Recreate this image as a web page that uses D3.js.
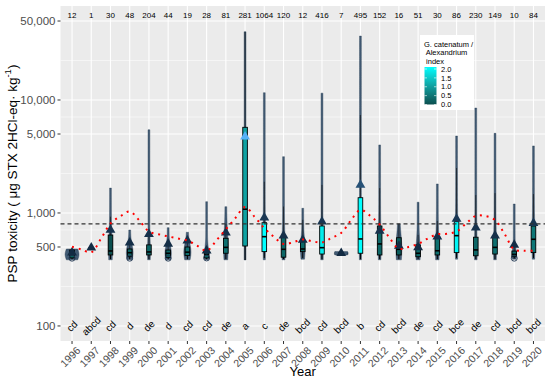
<!DOCTYPE html>
<html><head><meta charset="utf-8">
<script src="https://cdn.jsdelivr.net/npm/d3@7"></script>
<style>body{margin:0;background:#fff;} text{font-family:"Liberation Sans",Arial,sans-serif;}</style>
</head><body><svg id="c" width="550" height="385"></svg>
<script>
const years = ["1996","1997","1998","1999","2000","2001","2002","2003","2004","2005","2006","2007","2008","2009","2010","2011","2012","2013","2014","2015","2016","2017","2018","2019","2020"];
const counts = [12,1,30,48,204,44,19,28,81,281,1064,120,12,416,7,495,152,16,51,30,86,230,149,10,84];
const sigLetters = ["cd","abcd","cd","d","de","d","cd","cd","de","a","c","de","bcd","cd","bcd","b","cd","bcd","de","cd","bce","de","cd","bcd","bcd"];
const q1 =      [400,493,425,410,425,405,420,400,440,510, 455,406,455,433,435,440,425,425,410,425,446,418,433,410,446];
const medians = [430,493,461,445,452,440,450,430,496,1080,617,477,480,493,440,589,532,477,440,463,630,471,496,430,585];
const q3 =      [470,493,638,480,522,470,500,460,597,5730,820,610,557,767,445,1365,767,604,522,617,838,610,617,460,767];
const whiskLo = [390,493,390,390,390,390,390,390,390,384, 400,390,400,390,430,390,390,390,390,390,400,390,390,395,400];
const whiskHi = [480,493,927,540,700,520,560,500,800,40000,1890,1140,870,1770,450,7360,1660,800,640,850,2500,1440,1500,500,1470];
const means =   [445,493,707,546,649,532,569,463,670,4730,908,630,577,838,440,1770,693,510,496,617,885,741,630,522,811];
const violinMin=[385,null,385,385,385,385,385,385,385,384,385,385,390,385,425,385,385,385,385,385,390,385,385,390,390];
const violinMax=[480,null,1660,707,5450,741,675,1259,1137,40200,11600,3150,1100,11500,455,36800,4000,800,1245,1806,4800,8490,5070,1200,3920];
const outlierYears = ["1996","1999","2001","2003","2019"];
const outlierVals =  [398,398,398,400,398];
const fillIndex = [0.2,0.2,0.0,0.3,0.3,0.3,0.4,0.3,0.4,1.0,2.0,0.3,0.3,1.8,0.4,2.0,0.3,0.2,0.3,0.4,1.9,0.3,0.4,0.3,0.5];
// smoothed trend (red dotted line): positions in year units and values
const trendX = [1996,1996.5,1997,1997.5,1998,1998.5,1999,1999.5,2000,2000.5,2001,2001.5,2002,2002.5,2003,2003.5,2004,2004.5,2005,2005.5,2006,2006.5,2007,2007.5,2008,2008.5,2009,2009.5,2010,2010.5,2011,2011.5,2012,2012.5,2013,2013.5,2014,2014.5,2015,2015.5,2016,2016.5,2017,2017.5,2018,2018.5,2019,2019.5,2020];
const trendY = [503,475,449,589,807,931,1031,859,686,648,620,595,571,515,463,569,717,903,1130,922,736,614,532,551,582,562,548,601,666,859,1064,946,791,607,483,500,532,595,648,655,686,807,944,940,867,652,475,464,464];
const yBreaks = [100,500,1000,5000,10000,50000];
const legendBreaks = [0,0.5,1,1.5,2];
const limitValue = 800;

const svg = d3.select("#c");
const P = {l:60.5, r:545, t:6, b:341};
const step = (P.r-P.l)/(years.length-1+1.2);
const x = d3.scalePoint().domain(years).range([P.l+0.6*step, P.r-0.6*step]);
const xc = yr => x(yr);
const xn = d3.scaleLinear().domain([1996,2020]).range([P.l+0.6*step, P.r-0.6*step]);
const y = d3.scaleLog().domain([73.6, 67900]).range([P.b, P.t]);
const fillScale = d3.scaleLinear().domain([0,2]).range(["#0b4f4f","#00ffff"]).interpolate(d3.interpolateLab);
const meanColor = d3.scaleLinear().domain([440,4730]).range(["#132B43","#56B1F7"]).interpolate(d3.interpolateLab);

svg.append("rect").attr("x",P.l).attr("y",P.t).attr("width",P.r-P.l).attr("height",P.b-P.t).attr("fill","#EBEBEB");
const minor = [];
for (let i=0;i<yBreaks.length-1;i++) minor.push(Math.sqrt(yBreaks[i]*yBreaks[i+1]));
const g = svg.append("g");
g.selectAll(".mn").data(minor).join("line").attr("x1",P.l).attr("x2",P.r).attr("y1",d=>y(d)).attr("y2",d=>y(d)).attr("stroke","#fff").attr("stroke-width",0.5);
g.selectAll(".mj").data(yBreaks).join("line").attr("x1",P.l).attr("x2",P.r).attr("y1",d=>y(d)).attr("y2",d=>y(d)).attr("stroke","#fff").attr("stroke-width",1.1);
g.selectAll(".vx").data(years).join("line").attr("x1",d=>xc(d)).attr("x2",d=>xc(d)).attr("y1",P.t).attr("y2",P.b).attr("stroke","#fff").attr("stroke-width",1.1);

// y axis
const ya = svg.append("g");
ya.selectAll("line").data(yBreaks).join("line").attr("x1",P.l-3).attr("x2",P.l).attr("y1",d=>y(d)).attr("y2",d=>y(d)).attr("stroke","#333").attr("stroke-width",1);
ya.selectAll("text").data(yBreaks).join("text").attr("x",P.l-5).attr("y",d=>y(d)).attr("dy","0.35em").attr("text-anchor","end").attr("font-size",11.5).attr("fill","#4D4D4D").text(d=>d3.format(",")(d));
// x axis
const xa = svg.append("g");
xa.selectAll("line").data(years).join("line").attr("x1",d=>xc(d)).attr("x2",d=>xc(d)).attr("y1",P.b).attr("y2",P.b+3).attr("stroke","#333");
xa.selectAll("text").data(years).join("text").attr("transform",d=>`translate(${xc(d)+4},${P.b+5}) rotate(-45)`).attr("text-anchor","end").attr("dy","0.7em").attr("font-size",10.5).attr("fill","#4D4D4D").text(d=>d);

svg.append("text").attr("x",(P.l+P.r)/2).attr("y",375.5).attr("text-anchor","middle").attr("font-size",13).attr("fill","#000").text("Year");
const yt = svg.append("text").attr("transform",`translate(17,${(P.t+P.b)/2}) rotate(-90)`).attr("text-anchor","middle").attr("font-size",13.5).attr("fill","#000");
yt.append("tspan").text("PSP toxicity ( μg STX 2HCl-eq· kg");
yt.append("tspan").attr("dy",-6).attr("font-size",9.5).text("-1");
yt.append("tspan").attr("dy",6).text(")");

// violins
const rows = years.map((yr,i)=>({yr,i}));
const vg = svg.append("g");
rows.forEach(({yr,i})=>{
  if (violinMin[i]==null) return;
  const lmin=Math.log(violinMin[i]), lmax=Math.log(violinMax[i]);
  const lm=Math.log(medians[i]);
  const s=Math.min(0.3,Math.max(0.08,(Math.log(q3[i])-Math.log(q1[i]))));
  const B=Math.min(6,1.5/Math.max(0.25,lmax-lmin));
  const pts=d3.range(0,1.0001,0.01).map(t=>{const lv=lmin+(lmax-lmin)*t; const hw=0.9+B*Math.exp(-0.5*((lv-lm)/s)**2); return {v:Math.exp(lv),hw};});
  const cx=xc(yr);
  const area=d3.area().y(d=>y(d.v)).x0(d=>cx-d.hw).x1(d=>cx+d.hw).curve(d3.curveBasis);
  vg.append("path").attr("d",area(pts)).attr("fill","#2f4a66").attr("fill-opacity",0.9).attr("stroke","#22384f").attr("stroke-width",0.4);
});
// boxplots
const bg = svg.append("g");
const bw = 4.6;
rows.forEach(({yr,i})=>{
  const cx=xc(yr);
  bg.append("line").attr("x1",cx).attr("x2",cx).attr("y1",y(whiskLo[i])).attr("y2",y(q1[i])).attr("stroke","#000").attr("stroke-width",1);
  bg.append("line").attr("x1",cx).attr("x2",cx).attr("y1",y(q3[i])).attr("y2",y(whiskHi[i])).attr("stroke","#111").attr("stroke-width",0.8).attr("stroke-opacity",0.8);
  bg.append("rect").attr("x",cx-bw/2).attr("width",bw).attr("y",y(q3[i])).attr("height",Math.max(0.5,y(q1[i])-y(q3[i]))).attr("fill",fillScale(fillIndex[i])).attr("stroke","#000").attr("stroke-width",0.9);
  bg.append("line").attr("x1",cx-bw/2).attr("x2",cx+bw/2).attr("y1",y(medians[i])).attr("y2",y(medians[i])).attr("stroke","#000").attr("stroke-width",1.6);
});
// outliers
svg.append("g").selectAll("circle").data(outlierYears.map((yr,k)=>({yr,v:outlierVals[k]}))).join("circle")
  .attr("cx",d=>xc(d.yr)).attr("cy",d=>y(d.v)).attr("r",3).attr("fill","none").attr("stroke","#1f3650").attr("stroke-width",0.9);
// means
svg.append("g").selectAll("path").data(rows).join("path").attr("transform",d=>`translate(${xc(d.yr)},${y(means[d.i])})`)
  .attr("d",d3.symbol(d3.symbolTriangle,42)).attr("fill",d=>meanColor(means[d.i]));
// limit line
svg.append("line").attr("x1",P.l).attr("x2",P.r).attr("y1",y(limitValue)).attr("y2",y(limitValue)).attr("stroke","#333").attr("stroke-width",1.1).attr("stroke-dasharray","4,3");
// trend
const line = d3.line().x((d,k)=>xn(trendX[k])).y(d=>y(d)).curve(d3.curveCatmullRom);
svg.append("path").attr("d",line(trendY)).attr("fill","none").attr("stroke","#ff0000").attr("stroke-width",2).attr("stroke-dasharray","2,4.8");
// counts
svg.append("g").selectAll("text").data(rows).join("text").attr("x",d=>xc(d.yr)).attr("y",15).attr("dy","0.35em").attr("text-anchor","middle").attr("font-size",8).attr("fill","#000").text(d=>counts[d.i]);
// letters (rotated 45 degrees, centred on the 100 gridline)
const lt = svg.append("g");
rows.forEach(d=>{
  const gg = lt.append("g").attr("transform",`translate(${xc(d.yr)},${y(100)})`);
  gg.append("g").attr("transform","rotate(-45)")
    .append("text").attr("x",0).attr("y",3.5).attr("text-anchor","middle").attr("font-size",10).attr("fill","#000").text(sigLetters[d.i]);
});

// legend
const L = svg.append("g");
L.append("rect").attr("x",420).attr("y",35).attr("width",54).attr("height",75).attr("fill","#fff");
["G. catenatum /"," Alexandrium"," index"].forEach((t,k)=>L.append("text").attr("x",424).attr("y",47+k*8.3).attr("font-size",7.5).attr("fill","#000").style("white-space","pre").text(t));
const lg = d3.scaleLinear().domain([0,2]).range([104.5,69]);
const defs = svg.append("defs");
const grad = defs.append("linearGradient").attr("id","lgd").attr("x1",0).attr("x2",0).attr("y1",1).attr("y2",0);
d3.range(0,1.01,0.1).forEach(t=>grad.append("stop").attr("offset",t).attr("stop-color",fillScale(t*2)));
L.append("rect").attr("x",424.5).attr("y",lg(2)-2).attr("width",12).attr("height",lg(0)-lg(2)+2).attr("fill","url(#lgd)");
L.selectAll(".tk").data(legendBreaks).join("text").attr("x",441).attr("y",d=>lg(d)).attr("dy","0.35em").attr("font-size",7.5).attr("fill","#000").text(d=>d3.format(".1f")(d));
L.selectAll(".tl").data(legendBreaks).join("line").attr("x1",424.5).attr("x2",427).attr("y1",d=>lg(d)).attr("y2",d=>lg(d)).attr("stroke","#fff").attr("stroke-width",0.6);
L.selectAll(".tr").data(legendBreaks).join("line").attr("x1",434).attr("x2",436.5).attr("y1",d=>lg(d)).attr("y2",d=>lg(d)).attr("stroke","#fff").attr("stroke-width",0.6);
</script></body></html>
